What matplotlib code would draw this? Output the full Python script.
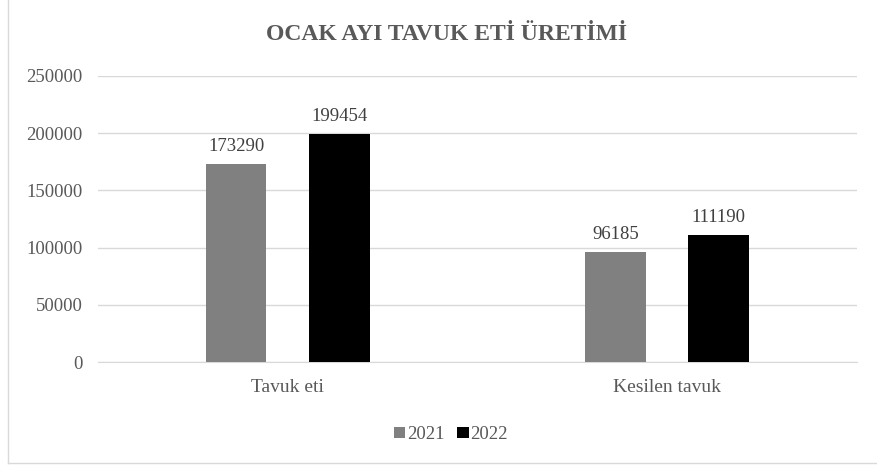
import matplotlib.pyplot as plt
import numpy as np
from matplotlib.lines import Line2D

categories = ['Tavuk eti', 'Kesilen tavuk']
years = ['2021', '2022']
values_2021 = [173290, 96185]
values_2022 = [199454, 111190]
colors = ['#808080', '#000000']

plt.rcParams['font.family'] = ['Liberation Serif', 'DejaVu Serif']

fig = plt.figure(figsize=(8.77, 4.65), dpi=100)
ax = fig.add_axes([0.1117, 0.2215, 0.8655, 0.6151])

x = np.arange(len(categories))
w = 0.16
off = 0.136
for i, (vals, c, yr) in enumerate(zip([values_2021, values_2022], colors, years)):
    pos = x + (-off if i == 0 else off)
    bars = ax.bar(pos, vals, width=w, color=c, label=yr, zorder=3)
    for b, v in zip(bars, vals):
        ax.text(b.get_x() + b.get_width() / 2, v + 7500, str(v),
                ha='center', va='bottom', fontsize=13.5, color='#404040')

ax.set_xlim(-0.5, 1.5)
ax.set_ylim(0, 250000)
ax.set_yticks(range(0, 250001, 50000))
ax.set_xticks(x)
ax.set_xticklabels(categories)
ax.tick_params(axis='both', length=0, labelsize=13.5, colors='#595959')
ax.tick_params(axis='x', labelsize=14, pad=12)
ax.tick_params(axis='y', pad=11)
ax.yaxis.grid(True, color='#d9d9d9', lw=1, zorder=0)
for s in ['top', 'right', 'left']:
    ax.spines[s].set_visible(False)
ax.spines['bottom'].set_color('#d9d9d9')

fig.text(0.509, 0.926, 'OCAK AYI TAVUK ETİ ÜRETİMİ', ha='center', va='center',
         fontsize=17, fontweight='bold', color='#595959')

ax.legend(loc='upper center', bbox_to_anchor=(0.465, -0.165), ncol=2, frameon=False,
          fontsize=13.5, labelcolor='#595959', handlelength=0.6, handleheight=0.6,
          handletextpad=0.1, columnspacing=0.7)

# outer chart frame
fig.add_artist(Line2D([8 / 877, 8 / 877], [0.005, 1], transform=fig.transFigure, color='#d9d9d9', lw=1))
fig.add_artist(Line2D([8 / 877, 1], [0.005, 0.005], transform=fig.transFigure, color='#d9d9d9', lw=1))

fig.savefig('out.png', dpi=100)
